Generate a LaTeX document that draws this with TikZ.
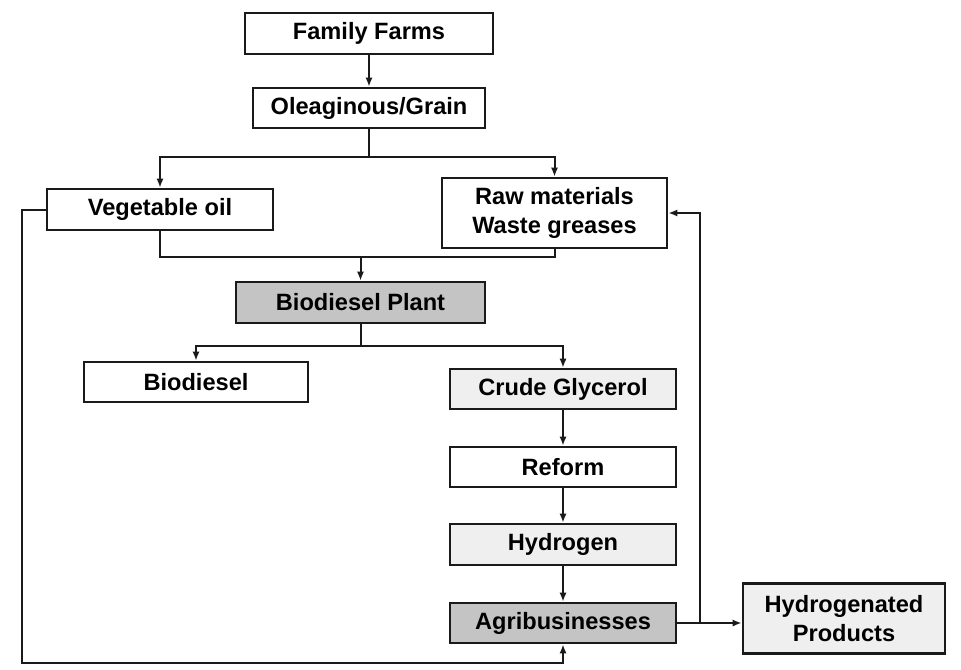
\documentclass[tikz,border=0pt]{standalone}
\usepackage{fontspec}
\setmainfont{Liberation Sans}
\usetikzlibrary{arrows.meta}
\definecolor{darkgray}{HTML}{C4C4C4}
\definecolor{lightgray}{HTML}{EFEFEF}
\definecolor{ink}{HTML}{1A1A1A}
\begin{document}
\begin{tikzpicture}[x=0.5pt,y=-0.5pt,
  box/.style={draw=ink, line width=1.4pt, font=\bfseries\fontsize{11.8}{14.5}\selectfont, align=center, inner sep=0pt, fill=white},
  conn/.style={draw=ink, line width=1pt},
  arr/.style={conn, -{Latex[length=4.5pt,width=3.6pt]}}]
\useasboundingbox (0,0) rectangle (961,669);
\node[box, minimum width=124pt, minimum height=20.5pt] (ff) at (369,33.5) {Family Farms};
\node[box, minimum width=116pt, minimum height=20pt] (og) at (369,108) {Oleaginous/Grain};
\node[box, minimum width=113pt, minimum height=20.5pt] (veg) at (160,209.5) {Vegetable oil};
\node[box, minimum width=112.5pt, minimum height=35pt] (raw) at (554.5,213) {Raw materials\\Waste greases};
\node[box, fill=darkgray, minimum width=124.5pt, minimum height=20.5pt] (bp) at (360.5,302.5) {Biodiesel Plant};
\node[box, minimum width=112pt, minimum height=20pt] (bd) at (196,382) {Biodiesel};
\node[box, fill=lightgray, minimum width=113pt, minimum height=20pt] (cg) at (563,389) {Crude Glycerol};
\node[box, minimum width=113pt, minimum height=20pt] (rf) at (563,467) {Reform};
\node[box, fill=lightgray, minimum width=113pt, minimum height=20.5pt] (hy) at (563,544.5) {Hydrogen};
\node[box, fill=darkgray, minimum width=113pt, minimum height=20pt] (ag) at (563,623) {Agribusinesses};
\node[box, fill=lightgray, minimum width=101pt, minimum height=35pt] (hp) at (844,618.5) {Hydrogenated\\Products};

\coordinate (j1) at (369,157);
\coordinate (j2) at (360.5,257);
\coordinate (j3) at (360.5,346);
\coordinate (j4) at (700,623);
\coordinate (c1) at (22,209.5);
\coordinate (c2) at (22,663);

\draw[arr] (ff) -- (og);
\draw[conn] (og.south) -- (j1);
\draw[arr] (j1) -| (veg.north);
\draw[arr] (j1) -| (raw.north);
\draw[conn] (veg.south) |- (j2);
\draw[conn] (raw.south) |- (j2);
\draw[arr] (j2) -- (bp.north);
\draw[conn] (bp.south) -- (j3);
\draw[arr] (j3) -| (bd.north);
\draw[arr] (j3) -| (cg.north);
\draw[arr] (cg) -- (rf);
\draw[arr] (rf) -- (hy);
\draw[arr] (hy) -- (ag);
\draw[arr] (ag.east) -- (ag.east -| hp.west);
\draw[arr] (j4) |- (raw.east);
\draw[arr] (veg.west) -- (c1) -- (c2) -| (ag.south);
\end{tikzpicture}
\end{document}
